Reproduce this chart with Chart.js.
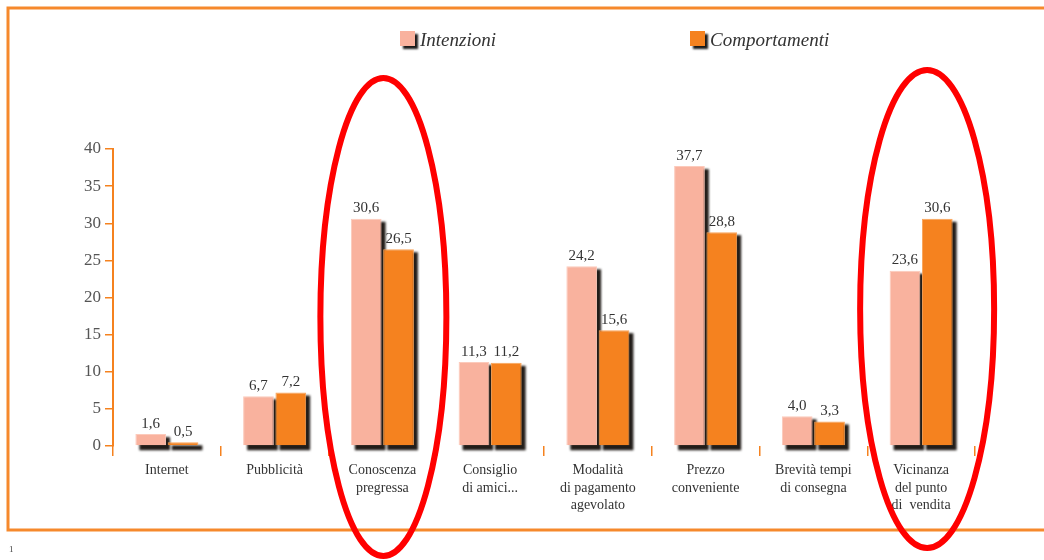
<!DOCTYPE html>
<html>
<head>
<meta charset="utf-8">
<script src="https://cdn.jsdelivr.net/npm/chart.js@4.4.1/dist/chart.umd.min.js"></script>
<style>
  html, body { margin: 0; padding: 0; background: #ffffff; }
  #wrap { width: 1044px; height: 560px; position: relative; }
</style>
</head>
<body>
<div id="wrap"><canvas id="c" width="1044" height="560"></canvas></div>
<script>
// Motivi di scelta: intenzioni vs comportamenti (%)
const categories = [
  ['Internet'],
  ['Pubblicità'],
  ['Conoscenza', 'pregressa'],
  ['Consiglio', 'di amici...'],
  ['Modalità', 'di pagamento', 'agevolato'],
  ['Prezzo', 'conveniente'],
  ['Brevità tempi', 'di consegna'],
  ['Vicinanza', 'del punto', 'di  vendita']
];
const intenzioni    = [1.6, 6.7, 30.6, 11.3, 24.2, 37.7, 4.0, 23.6];
const comportamenti = [0.5, 7.2, 26.5, 11.2, 15.6, 28.8, 3.3, 30.6];
const seriesNames = ['Intenzioni', 'Comportamenti'];
const yTicks = [0, 5, 10, 15, 20, 25, 30, 35, 40];
const highlighted = [2, 7];   // categories circled in red

const PINK = '#f9b29e';
const ORANGE = '#f5821f';
const FRAME = '#f6892c';
const SERIF = '"Liberation Serif", "DejaVu Serif", serif';

const fmt = v => v.toFixed(1).replace('.', ',');

// Orange frame around the figure
const framePlugin = {
  id: 'frame',
  beforeDraw(chart) {
    const ctx = chart.ctx;
    ctx.save();
    ctx.fillStyle = '#ffffff';
    ctx.fillRect(0, 0, chart.width, chart.height);
    ctx.strokeStyle = FRAME;
    ctx.lineWidth = 3;
    ctx.beginPath();
    ctx.moveTo(chart.width, 8);
    ctx.lineTo(8, 8);
    ctx.lineTo(8, 530);
    ctx.lineTo(chart.width, 530);
    ctx.stroke();
    ctx.fillStyle = '#444';
    ctx.font = '9px ' + SERIF;
    ctx.textBaseline = 'alphabetic';
    ctx.fillText('1', 9, 552);
    ctx.restore();
  }
};

// Dark drop shadow behind every bar, taken from the bar elements' geometry
const shadowPlugin = {
  id: 'barShadow',
  beforeDatasetsDraw(chart) {
    const ctx = chart.ctx;
    ctx.save();
    ctx.fillStyle = 'rgba(15,10,5,0.92)';
    ctx.filter = 'blur(1px)';
    chart.data.datasets.forEach((ds, di) => {
      chart.getDatasetMeta(di).data.forEach(bar => {
        const left = bar.x - bar.width / 2;
        const top = Math.min(bar.y, bar.base);
        const h = Math.abs(bar.base - bar.y);
        ctx.fillRect(left + 4, top + 3, bar.width, h + 2);
      });
    });
    ctx.restore();
  }
};

// Value labels above each bar
const valueLabels = {
  id: 'valueLabels',
  afterDatasetsDraw(chart) {
    const ctx = chart.ctx;
    ctx.save();
    ctx.fillStyle = '#333';
    ctx.font = '15px ' + SERIF;
    ctx.textAlign = 'center';
    ctx.textBaseline = 'bottom';
    chart.data.datasets.forEach((ds, di) => {
      chart.getDatasetMeta(di).data.forEach((bar, i) => {
        ctx.fillText(fmt(ds.data[i]), bar.x, bar.y - 3);
      });
    });
    ctx.restore();
  }
};

// Legend with shadowed swatches
const legendPlugin = {
  id: 'legendTop',
  afterDraw(chart) {
    const ctx = chart.ctx;
    const items = [
      { x: 400, color: PINK, text: seriesNames[0] },
      { x: 690, color: ORANGE, text: seriesNames[1] }
    ];
    items.forEach(it => {
      ctx.save();
      ctx.shadowColor = 'rgba(0,0,0,0.9)';
      ctx.shadowOffsetX = 3;
      ctx.shadowOffsetY = 3;
      ctx.shadowBlur = 2;
      ctx.fillStyle = it.color;
      ctx.fillRect(it.x, 31, 15, 15);
      ctx.restore();
      ctx.save();
      ctx.fillStyle = '#333';
      ctx.font = 'italic 19px ' + SERIF;
      ctx.textBaseline = 'alphabetic';
      ctx.fillText(it.text, it.x + 20, 46);
      ctx.restore();
    });
  }
};

// Red ellipses around the highlighted categories
const ellipsePlugin = {
  id: 'ellipses',
  afterDraw(chart) {
    const ctx = chart.ctx;
    const xs = chart.scales.x;
    const shapes = [
      { idx: highlighted[0], dx: 1, cy: 317, rx: 63, ry: 239 },
      { idx: highlighted[1], dx: 6, cy: 309, rx: 67, ry: 239 }
    ];
    ctx.save();
    ctx.strokeStyle = '#ff0000';
    ctx.lineWidth = 6;
    shapes.forEach(s => {
      const cx = xs.getPixelForValue(s.idx) + s.dx;
      ctx.beginPath();
      ctx.ellipse(cx, s.cy, s.rx, s.ry, 0, 0, Math.PI * 2);
      ctx.stroke();
    });
    ctx.restore();
  }
};

new Chart(document.getElementById('c'), {
  type: 'bar',
  data: {
    labels: categories,
    datasets: [
      {
        label: seriesNames[0],
        data: intenzioni,
        backgroundColor: PINK,
        borderColor: '#fccabb',
        borderWidth: 1,
        categoryPercentage: 0.6,
        barPercentage: 0.95,
        clip: false
      },
      {
        label: seriesNames[1],
        data: comportamenti,
        backgroundColor: ORANGE,
        borderColor: '#f9a45a',
        borderWidth: 1,
        categoryPercentage: 0.6,
        barPercentage: 0.95,
        clip: false
      }
    ]
  },
  options: {
    responsive: false,
    animation: false,
    devicePixelRatio: 1,
    layout: { padding: { left: 0, right: 69, top: 149, bottom: 0 } },
    plugins: {
      legend: { display: false },
      tooltip: { enabled: false }
    },
    scales: {
      x: {
        offset: true,
        border: { display: false },
        grid: {
          offset: true,
          drawOnChartArea: false,
          drawTicks: true,
          tickLength: 10,
          color: ORANGE,
          lineWidth: 1.5
        },
        ticks: {
          color: '#333',
          font: { family: SERIF, size: 14, lineHeight: 1.25 },
          padding: 6,
          maxRotation: 0,
          autoSkip: false
        },
        afterFit(s) { s.height = 114; }
      },
      y: {
        min: 0,
        max: 40,
        afterBuildTicks(s) { s.ticks = yTicks.map(v => ({ value: v })); },
        border: { display: true, color: ORANGE, width: 2 },
        grid: {
          drawOnChartArea: false,
          drawTicks: true,
          tickLength: 8,
          color: ORANGE,
          lineWidth: 1.5
        },
        ticks: {
          color: '#555',
          font: { family: SERIF, size: 17 },
          padding: 4
        },
        afterFit(s) { s.width = 113; }
      }
    }
  },
  plugins: [framePlugin, shadowPlugin, valueLabels, legendPlugin, ellipsePlugin]
});
</script>
</body>
</html>
